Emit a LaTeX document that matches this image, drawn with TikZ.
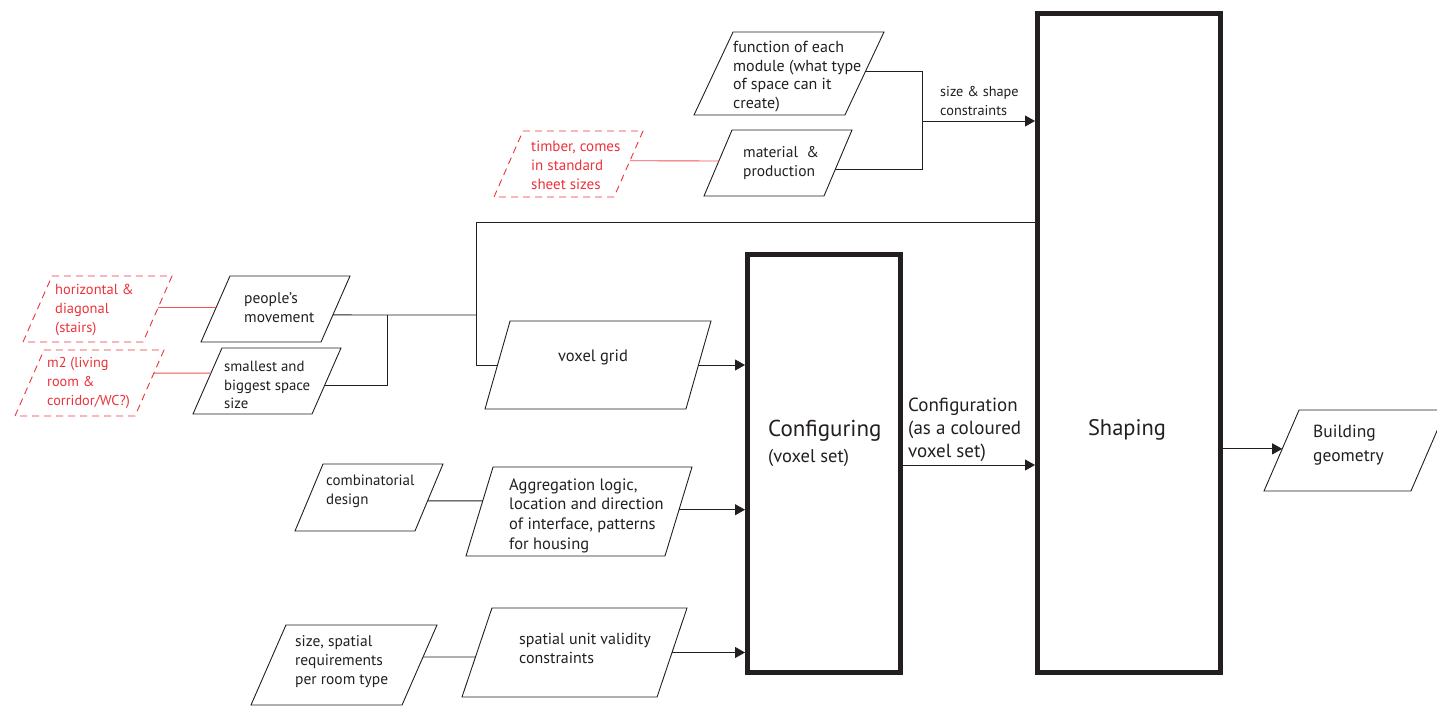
\documentclass[tikz,border=0pt]{standalone}
\usepackage{fontspec}
\setmainfont{PT Sans}
\usetikzlibrary{shapes.geometric,arrows.meta,calc}
\definecolor{ink}{RGB}{35,31,32}
\definecolor{redink}{RGB}{236,50,58}
\definecolor{redline}{RGB}{240,80,86}
\tikzset{
  para/.style 2 args={trapezium, draw=ink, line width=0.9pt, trapezium stretches body,
     inner xsep=0pt, outer sep=0pt, trapezium left angle=#1, trapezium right angle=#2},
  redpara/.style 2 args={para={#1}{#2}, draw=redink, dash pattern=on 7pt off 5pt},
  bigbox/.style={draw=ink, line width=5pt, inner sep=0pt, rectangle},
  txt/.style={font=\fontsize{15}{18.5}\selectfont, text=ink, align=left, inner sep=0pt, anchor=west},
  redtxt/.style={txt, text=redink},
  wire/.style={draw=ink, line width=0.9pt},
  redwire/.style={draw=redline, line width=0.9pt},
  arr/.style={-{Triangle[length=10pt,width=11pt]}}
}
\begin{document}
\begin{tikzpicture}[x=1pt,y=-1pt]
\useasboundingbox (0,0) rectangle (1437,706);
% big boxes
\node[bigbox, minimum width=153pt, minimum height=418pt] (conf) at (824,463.5) {};
\node[bigbox, minimum width=183pt, minimum height=659pt] (shaping) at (1129,343) {};
\node[font=\fontsize{23}{26}\selectfont, text=ink, anchor=west, inner sep=0pt] (conft1) at (768,431) {Configuring};
\node[font=\fontsize{18.5}{22}\selectfont, text=ink, anchor=west, inner sep=0pt] (conft2) at (768,458) {(voxel set)};
\node[font=\fontsize{22.5}{26}\selectfont, text=ink, inner sep=0pt] (shapt) at (1127,430) {Shaping};
% parallelograms
\node[para={64.8}{115.2}, minimum width=190pt, inner ysep=41.5pt] (func) at (789,73.5) {};
\node[para={67}{113}, minimum width=148pt, inner ysep=33pt] (mat) at (778,163) {};
\node[redpara={66.3}{113.7}, minimum width=149pt, inner ysep=33pt] (timber) at (568.5,164) {};
\node[para={66.3}{113.7}, minimum width=149pt, inner ysep=33pt] (people) at (275.5,309) {};
\node[para={66.3}{113.7}, minimum width=148pt, inner ysep=33pt] (small) at (267,381) {};
\node[redpara={66.3}{113.7}, minimum width=149pt, inner ysep=33pt] (horiz) at (97.5,309) {};
\node[redpara={66.3}{113.7}, minimum width=149pt, inner ysep=33pt] (mtwo) at (89.5,383) {};
\node[para={74.1}{105.9}, minimum width=226pt, inner ysep=44pt] (voxel) at (598,365) {};
\node[para={67.3}{112.7}, minimum width=148pt, inner ysep=33.5pt] (comb) at (369,497.5) {};
\node[para={73.1}{106.9}, minimum width=226pt, inner ysep=44.5pt] (agg) at (579,511.5) {};
\node[para={66.4}{113.6}, minimum width=186pt, inner ysep=40pt] (size) at (344,665) {};
\node[para={71.4}{108.6}, minimum width=225pt, inner ysep=44.5pt] (unit) at (574.5,652.5) {};
\node[para={66.6}{113.4}, minimum width=182pt, inner ysep=40.5pt] (building) at (1355,450.5) {};
% texts
\node[txt, font=\fontsize{16}{18.5}\selectfont] (funct) at (733,76.5) {function of each\\module (what type\\of space can it\\create)};
\node[txt, font=\fontsize{15.5}{19}\selectfont] (matt) at (743,163.5) {material \ \&\\production};
\node[redtxt, font=\fontsize{15}{19}\selectfont] (timbert) at (531,165) {timber, comes\\in standard\\sheet sizes};
\node[txt, font=\fontsize{15.5}{19}\selectfont] (peoplet) at (244,307.5) {people’s\\movement};
\node[txt, font=\fontsize{14.8}{18.2}\selectfont] (smallt) at (224,385) {smallest and\\biggest space\\size};
\node[redtxt, font=\fontsize{14.5}{19}\selectfont] (horizt) at (55,310) {horizontal \&\\diagonal\\(stairs)};
\node[redtxt, font=\fontsize{14.3}{19}\selectfont] (mtwot) at (47,383) {m2 (living\\room \&\\corridor/WC?)};
\node[txt, font=\fontsize{16.5}{19}\selectfont] (voxelt) at (558,357) {voxel grid};
\node[txt, font=\fontsize{15}{19.5}\selectfont] (combt) at (326,491.5) {combinatorial\\design};
\node[txt, font=\fontsize{16.5}{19.7}\selectfont] (aggt) at (509,515.5) {Aggregation logic,\\location and direction\\of interface, patterns\\for housing};
\node[txt, font=\fontsize{15.5}{18.7}\selectfont] (sizet) at (295,661.5) {size, spatial\\requirements\\per room type};
\node[txt, font=\fontsize{16}{19}\selectfont] (unitt) at (519,648.5) {spatial unit validity\\constraints};
\node[txt, font=\fontsize{17.5}{24}\selectfont] (buildt) at (1313,445) {Building\\geometry};
\node[txt, font=\fontsize{14.3}{19}\selectfont] (sizelbl) at (940,100.5) {size \& shape\\constraints};
\node[txt, font=\fontsize{19}{23}\selectfont] (conflbl) at (908,430) {Configuration\\(as a coloured\\voxel set)};
% connectors: top group
\coordinate (j1) at (922,121);
\draw[wire] ($(func.top right corner)!0.48!(func.bottom right corner)$) -| (j1);
\draw[wire] ($(mat.top right corner)!0.6!(mat.bottom right corner)$) -| (j1);
\draw[wire, arr] (j1) -- (j1 -| shaping.west);
\draw[redwire] ($(timber.top right corner)!0.45!(timber.bottom right corner)$) -- ($(mat.top left corner)!0.47!(mat.bottom left corner)$);
% feedback line to voxel grid
\coordinate (j2) at (476,222);
\coordinate (j3) at (476,315);
\coordinate (j4) at (387,315);
\draw[wire] (shaping.west |- j2) -- (j2) |- (voxel.left side);
\draw[wire] ($(people.top right corner)!0.59!(people.bottom right corner)$) -- (j3);
\draw[wire] ($(small.top right corner)!0.56!(small.bottom right corner)$) -| (j4);
\draw[redwire] ($(horiz.top right corner)!0.47!(horiz.bottom right corner)$) -- ($(people.top left corner)!0.47!(people.bottom left corner)$);
\draw[redwire] ($(mtwo.top right corner)!0.35!(mtwo.bottom right corner)$) -- ($(small.top left corner)!0.38!(small.bottom left corner)$);
% inputs to configuring
\draw[wire, arr] (voxel.right side) -- (voxel.right side -| conf.west);
\draw[wire] ($(comb.top right corner)!0.55!(comb.bottom right corner)$) -- ($(agg.top left corner)!0.38!(agg.bottom left corner)$);
\coordinate (a1) at ($(agg.top right corner)!0.48!(agg.bottom right corner)$);
\draw[wire, arr] (a1) -- (a1 -| conf.west);
\draw[wire] ($(size.top right corner)!0.4!(size.bottom right corner)$) -- ($(unit.top left corner)!0.55!(unit.bottom left corner)$);
\coordinate (u1) at ($(unit.top right corner)!0.5!(unit.bottom right corner)$);
\draw[wire, arr] (u1) -- (u1 -| conf.west);
% configuring to shaping to building
\coordinate (c1) at (903,465);
\draw[wire, arr] (c1) -- (c1 -| shaping.west);
\coordinate (b1) at ($(building.top left corner)!0.48!(building.bottom left corner)$);
\draw[wire, arr] (b1 -| shaping.east) -- (b1);
\end{tikzpicture}
\end{document}
